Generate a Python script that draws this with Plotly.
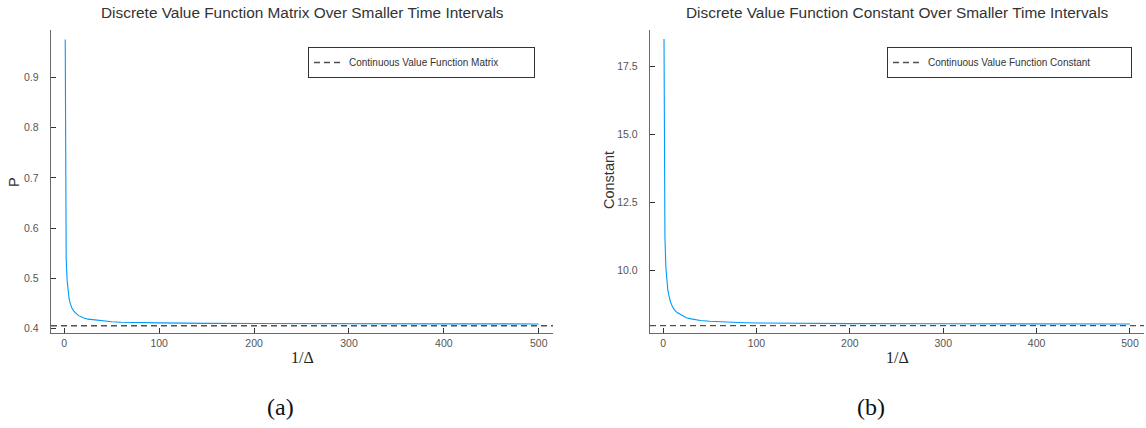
import plotly.graph_objects as go

# ---- data ----
inv_delta = [1, 2, 3, 4, 5, 6, 7, 8, 10, 12, 15, 20, 25, 30, 40, 50, 60, 80,
             100, 150, 200, 300, 400, 500]
p_discrete = [0.975, 0.540, 0.496, 0.474, 0.461, 0.452, 0.446, 0.441, 0.435,
              0.431, 0.426, 0.422, 0.419, 0.418, 0.4155, 0.414, 0.413, 0.412,
              0.4116, 0.4107, 0.4103, 0.4099, 0.4097, 0.4095]
c_discrete = [18.5, 11.2, 10.1, 9.6, 9.3, 9.1, 8.95, 8.83, 8.66, 8.55, 8.44,
              8.33, 8.25, 8.21, 8.15, 8.12, 8.10, 8.075, 8.06, 8.045, 8.035,
              8.03, 8.025, 8.02]
p_continuous = 0.406
c_continuous = 7.96

x_range = [-14, 515]
p_range = [0.3915, 0.994]
c_range = [7.69, 18.83]
x_ticks = [0, 100, 200, 300, 400, 500]
p_ticks = [0.4, 0.5, 0.6, 0.7, 0.8, 0.9]
c_ticks = [10.0, 12.5, 15.0, 17.5]

titles = ["Discrete Value Function Matrix Over Smaller Time Intervals",
          "Discrete Value Function Constant Over Smaller Time Intervals"]
legend_names = ["Continuous Value Function Matrix",
                "Continuous Value Function Constant"]
y_labels = ["P", "Constant"]
x_label = "1/Δ"
captions = ["(a)", "(b)"]

W, H = 1146, 428


def px(x):
    return x / W


def py(y):
    return 1 - y / H


BLUE = "#009AFA"
DASH = "#505050"
SANS = "Liberation Sans, Arial, sans-serif"
SERIF = "Liberation Serif, DejaVu Serif, serif"

fig = go.Figure()

fig.add_trace(go.Scatter(x=inv_delta, y=p_discrete, mode="lines",
                         line=dict(color=BLUE, width=1.1), showlegend=False,
                         xaxis="x", yaxis="y"))
fig.add_trace(go.Scatter(x=x_range, y=[p_continuous, p_continuous], mode="lines",
                         line=dict(color=DASH, width=1.4, dash="6px,4px"),
                         name=legend_names[0], legend="legend",
                         xaxis="x", yaxis="y"))
fig.add_trace(go.Scatter(x=inv_delta, y=c_discrete, mode="lines",
                         line=dict(color=BLUE, width=1.1), showlegend=False,
                         xaxis="x2", yaxis="y2"))
fig.add_trace(go.Scatter(x=x_range, y=[c_continuous, c_continuous], mode="lines",
                         line=dict(color=DASH, width=1.4, dash="6px,4px"),
                         name=legend_names[1], legend="legend2",
                         xaxis="x2", yaxis="y2"))

dom_left = [px(51), px(553)]
dom_right = [px(650), px(1144)]
dom_y = [py(333), py(30)]

axis_common = dict(showline=True, linecolor="#6a6a6a", linewidth=1.3,
                   ticks="inside", ticklen=5, tickcolor="#333333", tickwidth=1,
                   showgrid=False, zeroline=False, mirror=False,
                   tickfont=dict(family=SANS, size=10.5, color="#555555"))

fig.update_layout(
    width=W, height=H,
    margin=dict(l=0, r=0, t=0, b=0),
    paper_bgcolor="white", plot_bgcolor="white",
    xaxis=dict(domain=dom_left, range=x_range, tickvals=x_ticks, anchor="y",
               **axis_common),
    yaxis=dict(domain=dom_y, range=p_range, tickvals=p_ticks, anchor="x",
               tickformat=".1f", ticklabelstandoff=9, **axis_common),
    xaxis2=dict(domain=dom_right, range=x_range, tickvals=x_ticks, anchor="y2",
                **axis_common),
    yaxis2=dict(domain=dom_y, range=c_range, tickvals=c_ticks, anchor="x2",
                tickformat=".1f", ticklabelstandoff=9, **axis_common),
    legend=dict(x=px(308), y=py(47), xanchor="left", yanchor="top",
                orientation="h", entrywidth=180, entrywidthmode="pixels",
                bordercolor="#333333", borderwidth=1, bgcolor="white",
                font=dict(family=SANS, size=10, color="#333333")),
    legend2=dict(x=px(887), y=py(47), xanchor="left", yanchor="top",
                 orientation="h", entrywidth=198, entrywidthmode="pixels",
                 bordercolor="#333333", borderwidth=1, bgcolor="white",
                 font=dict(family=SANS, size=10, color="#333333")),
)

ann = []
centers = [(dom_left[0] + dom_left[1]) / 2, (dom_right[0] + dom_right[1]) / 2]
for i in range(2):
    ann.append(dict(text=titles[i], x=centers[i], y=py(12), xref="paper",
                    yref="paper", showarrow=False, xanchor="center",
                    yanchor="middle",
                    font=dict(family=SANS, size=15.4, color="#333333")))
    ann.append(dict(text=x_label, x=centers[i], y=py(357), xref="paper",
                    yref="paper", showarrow=False, xanchor="center",
                    yanchor="middle",
                    font=dict(family=SERIF, size=16, color="#222222")))
    ann.append(dict(text=captions[i], x=px([280, 871][i]), y=py(407),
                    xref="paper", yref="paper", showarrow=False,
                    xanchor="center", yanchor="middle",
                    font=dict(family=SERIF, size=24, color="#111111")))
ann.append(dict(text=y_labels[0], x=px(14), y=py(182), xref="paper",
                yref="paper", showarrow=False, textangle=-90,
                xanchor="center", yanchor="middle",
                font=dict(family=SANS, size=14.5, color="#333333")))
ann.append(dict(text=y_labels[1], x=px(609), y=py(180), xref="paper",
                yref="paper", showarrow=False, textangle=-90,
                xanchor="center", yanchor="middle",
                font=dict(family=SANS, size=14.5, color="#333333")))
fig.update_layout(annotations=ann)

# remove the default 8px page margin so the figure fills the window exactly
fig.write_html("out.html",
               config={"displayModeBar": False, "staticPlot": True},
               post_script="document.body.style.margin='0';"
                           "document.body.style.overflow='hidden';")
